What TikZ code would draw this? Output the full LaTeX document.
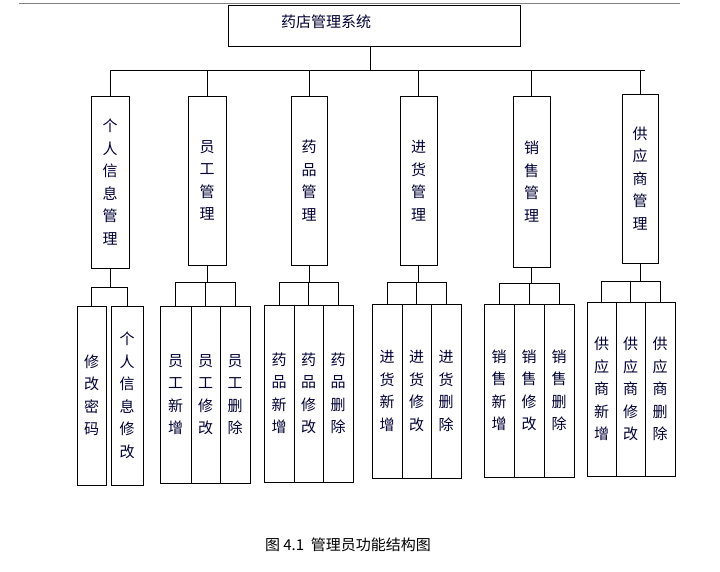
\documentclass[tikz,border=0pt]{standalone}
\usepackage{fontspec}
\setmainfont{Noto Sans CJK SC}
\tikzset{
  every node/.style={font=\fontsize{15}{22.5}\selectfont, text=black!80!blue},
  topbox/.style={draw, line width=1pt, minimum width=292pt, minimum height=41pt, inner sep=0pt},
  midbox/.style={draw, line width=0.8pt, align=center, inner sep=0pt},
  leafbox/.style={draw, line width=0.8pt, align=center, inner sep=0pt, minimum width=30pt},
  link/.style={line width=0.8pt}
}
\begin{document}
\begin{tikzpicture}[x=1pt,y=-1pt]
  \useasboundingbox (0,0) rectangle (720,572);
  \draw[gray, line width=1pt] (19,4) -- (680,4);

  % root
  \node[topbox] (root) at (374,26) {};
  \node (rootlabel) at (326,22) {药店管理系统};
  \coordinate (bar) at (370,70);
  \draw[link] (bar |- root.south) -- (bar);
  \draw[link] (111,70) -- (645,70);

  % second level: name / x-left / x-right / top / bottom / text
  \foreach \n/\xa/\xb/\ya/\yb/\t in {
      g1/91/129/96/268/{个\\人\\信\\息\\管\\理},
      g2/188/226/96/265/{员\\工\\管\\理},
      g3/291/327/96/265/{药\\品\\管\\理},
      g4/400/437/96/265/{进\\货\\管\\理},
      g5/513/550/96/267/{销\\售\\管\\理},
      g6/622/658/94/263/{供\\应\\商\\管\\理}}{
    \node[midbox, minimum width=\xb-\xa, minimum height=\yb-\ya] (\n) at ({(\xa+\xb)/2},{(\ya+\yb)/2}) {\t};
    \draw[link] (\n.north |- 0,70) -- (\n.north);
  }

  % third level: group / leaf name / x-left / x-right / top / bottom / text
  \foreach \g/\n/\xa/\xb/\ya/\yb/\t in {
      g1/a1/77/106/306/485/{修\\改\\密\\码},
      g1/a2/111/143/306/485/{个\\人\\信\\息\\修\\改},
      g2/b1/160/191/306/483/{员\\工\\新\\增},
      g2/b2/191/220/306/483/{员\\工\\修\\改},
      g2/b3/220/250/306/483/{员\\工\\删\\除},
      g3/c1/264/294/305/482/{药\\品\\新\\增},
      g3/c2/294/323/305/482/{药\\品\\修\\改},
      g3/c3/323/353/305/482/{药\\品\\删\\除},
      g4/d1/372/402/304/478/{进\\货\\新\\增},
      g4/d2/402/431/304/478/{进\\货\\修\\改},
      g4/d3/431/461/304/478/{进\\货\\删\\除},
      g5/e1/484/514/304/477/{销\\售\\新\\增},
      g5/e2/514/544/304/477/{销\\售\\修\\改},
      g5/e3/544/574/304/477/{销\\售\\删\\除},
      g6/f1/587/616/302/476/{供\\应\\商\\新\\增},
      g6/f2/616/645/302/476/{供\\应\\商\\修\\改},
      g6/f3/645/675/302/476/{供\\应\\商\\删\\除}}{
    \node[leafbox, minimum width=\xb-\xa, minimum height=\yb-\ya] (\n) at ({(\xa+\xb)/2},{(\ya+\yb)/2}) {\t};
  }

  % brackets between levels
  \foreach \g/\first/\last/\y in {g1/a1/a2/287, g2/b1/b3/282, g3/c1/c3/282,
                                   g4/d1/d3/282, g5/e1/e3/283, g6/f1/f3/281}{
    \draw[link] (\g.south) -- (\g.south |- 0,\y);
    \draw[link] (\first.north |- 0,\y) -- (\last.north |- 0,\y);
  }
  \foreach \g/\n/\y in {g1/a1/287, g1/a2/287, g2/b1/282, g2/b2/282, g2/b3/282,
                         g3/c1/282, g3/c2/282, g3/c3/282, g4/d1/282, g4/d2/282, g4/d3/282,
                         g5/e1/283, g5/e2/283, g5/e3/283, g6/f1/281, g6/f2/281, g6/f3/281}{
    \draw[link] (\n.north |- 0,\y) -- (\n.north);
  }

  \node[text=black] (caption) at (348,545) {图 4.1~~管理员功能结构图};
\end{tikzpicture}
\end{document}
